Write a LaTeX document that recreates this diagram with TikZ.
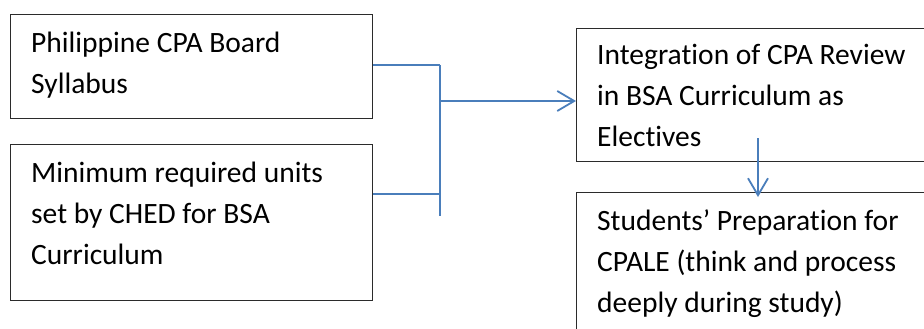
\documentclass[tikz,border=0pt]{standalone}
\usepackage{fontspec}
\setmainfont[Ligatures=NoCommon]{Carlito}
\usetikzlibrary{arrows.meta}
\definecolor{conn}{HTML}{4A7EBB}
\definecolor{edge}{HTML}{2B2B2B}
\newcommand{\boxtext}[1]{\vtop{\baselineskip=41pt\lineskiplimit=-100pt\halign{##\hfil\cr #1\cr}}}
\tikzset{
  frame/.style={draw=edge, line width=1.2pt, fill=none},
  txt/.style={anchor=base west, inner sep=0pt, font=\fontsize{29.5}{41}\selectfont},
  link/.style={draw=conn, line width=1.8pt},
  arr/.style={link, -{Straight Barb[length=17pt,width=20pt,line width=1.8pt]}}
}
\begin{document}
\begin{tikzpicture}[x=1pt,y=-1pt]
\useasboundingbox (0,0) rectangle (924,329);
\clip (0,0) rectangle (924,329);
\fill[white] (0,0) rectangle (924,329);
% boxes
\node[frame, inner sep=0pt, minimum width=362pt, minimum height=104pt, anchor=north west] (b1) at (10,14) {};
\node[frame, inner sep=0pt, minimum width=362pt, minimum height=156pt, anchor=north west] (b2) at (10,144) {};
\node[frame, inner sep=0pt, minimum width=360pt, minimum height=133pt, anchor=north west] (b3) at (576,28) {};
\node[frame, inner sep=0pt, minimum width=360pt, minimum height=150pt, anchor=north west] (b4) at (576,192) {};
% texts
\node[txt] (t1) at (31,53) {\boxtext{Philippine CPA Board\cr Syllabus}};
\node[txt] (t2) at (31,182) {\boxtext{Minimum required units\cr set by CHED for BSA\cr Curriculum}};
\node[txt] (t3) at (597,65) {\boxtext{Integration of CPA Review\cr in BSA Curriculum as\cr Electives}};
\node[txt] (t4) at (597,230) {\boxtext{Students’ Preparation for\cr CPALE (think and process\cr deeply during study)}};
% connectors
\coordinate (j1) at (440,65);
\coordinate (j2) at (440,194);
\coordinate (jt) at (440,216);
\coordinate (jm) at (440,101);
\coordinate (d0) at (758,138);
\coordinate (d1) at (758,197);
\draw[link] (b1.east |- j1) -- (j1);
\draw[link] (b2.east |- j2) -- (j2);
\draw[link] (j1) -- (jt);
\draw[arr] (jm) -- (b3.west |- jm);
\draw[arr] (d0) -- (d1);
\end{tikzpicture}
\end{document}
